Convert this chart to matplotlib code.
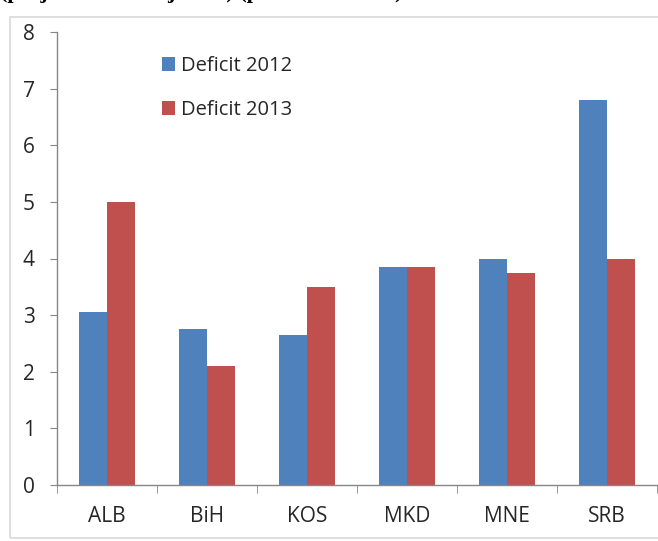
import matplotlib
matplotlib.use("Agg")
import matplotlib.pyplot as plt
import numpy as np
from matplotlib.patches import Rectangle

COUNTRIES = ["ALB", "BiH", "KOS", "MKD", "MNE", "SRB"]
DEFICIT_2012 = [3.05, 2.75, 2.65, 3.85, 4.0, 6.8]
DEFICIT_2013 = [5.0, 2.1, 3.5, 3.85, 3.75, 4.0]
SERIES_LABELS = ["Deficit 2012", "Deficit 2013"]
Y_TICKS = [0, 1, 2, 3, 4, 5, 6, 7, 8]

BLUE = "#4F81BD"
RED = "#C0504D"
AXIS_GRAY = "#868686"

plt.rcParams["font.family"] = ["Open Sans", "DejaVu Sans"]

W, H = 658, 541
fig = plt.figure(figsize=(W / 100, H / 100), dpi=100)
fig.patch.set_facecolor("white")

# light frame around the chart (cut off on the right)
fig.patches.append(
    Rectangle((10 / W, 1 - 538 / H), 700 / W, (538 - 17) / H,
              transform=fig.transFigure, fill=False,
              edgecolor="#d9d9d9", linewidth=1.2)
)

# cropped caption at the very top of the image
fig.text(0.0, 1 + 2 / H, "(projected and adjusted) (percent of GDP)",
         family="Liberation Serif", fontweight="bold", fontsize=16,
         ha="left", va="baseline", color="black")

ax = fig.add_axes([57 / W, 1 - 485 / H, 600 / W, (485 - 32) / H])

x = np.arange(len(COUNTRIES))
width = 0.28
ax.bar(x - width / 2, DEFICIT_2012, width, color=BLUE, label=SERIES_LABELS[0])
ax.bar(x + width / 2, DEFICIT_2013, width, color=RED, label=SERIES_LABELS[1])

ax.set_xlim(-0.5, len(COUNTRIES) - 0.5)
ax.set_ylim(0, 8)
ax.set_yticks(Y_TICKS)
ax.set_yticklabels([str(t) for t in Y_TICKS])

ax.set_xticks(x)
ax.set_xticklabels(COUNTRIES)
ax.tick_params(axis="x", length=0, pad=15, labelsize=15, labelcolor="#262626")
ax.set_xticks(np.arange(-0.5, len(COUNTRIES)), minor=True)
ax.tick_params(axis="x", which="minor", length=6, color=AXIS_GRAY, direction="out")
ax.tick_params(axis="y", length=5, color=AXIS_GRAY, pad=11,
               labelsize=15, labelcolor="#262626")

for side in ("top", "right"):
    ax.spines[side].set_visible(False)
for side in ("left", "bottom"):
    ax.spines[side].set_color(AXIS_GRAY)
    ax.spines[side].set_linewidth(1.0)

leg = ax.legend(loc="upper left", bbox_to_anchor=(0.162, 0.965), frameon=False,
                fontsize=14.5, handlelength=0.65, handleheight=0.65,
                handletextpad=0.3, labelspacing=1.2, borderaxespad=0)
for t in leg.get_texts():
    t.set_color("#262626")

fig.savefig("out.png", dpi=100)
